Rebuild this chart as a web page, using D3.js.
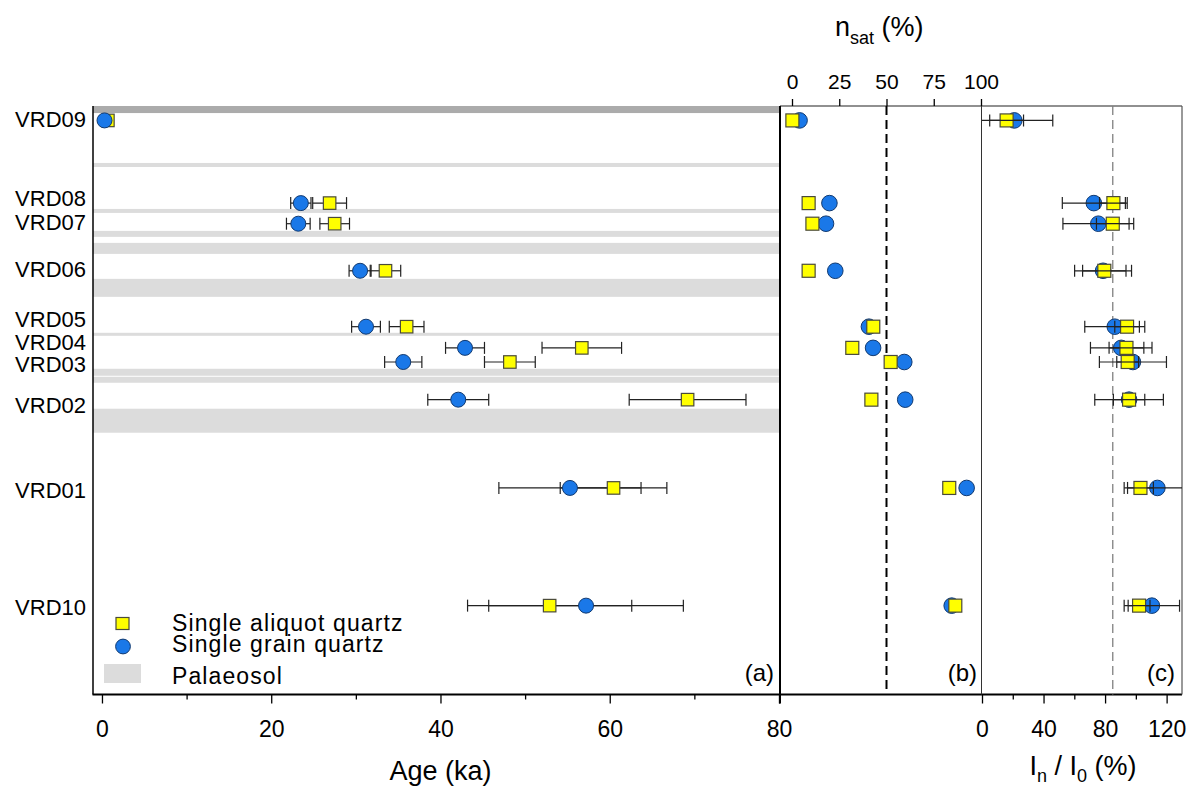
<!DOCTYPE html>
<html>
<head>
<meta charset="utf-8">
<script src="https://cdn.jsdelivr.net/npm/d3@7"></script>
<style>
	body { margin: 0; background: #fff; }
	text { font-family: 'Liberation Sans', Arial, sans-serif; fill: #000; }
</style>
</head>
<body>
<svg id="chart" width="1194" height="787"></svg>
<script>
// samples, top to bottom (relative position in the section, 0-100)
let samples = ['VRD09', 'VRD08', 'VRD07', 'VRD06', 'VRD05', 'VRD04', 'VRD03', 'VRD02', 'VRD01', 'VRD10']
let depth = [2.45, 16.5, 20.0, 28.0, 37.5, 41.1, 43.5, 49.9, 64.9, 84.9]

// (a) ages, ka
let ageSA = [0.7, 26.9, 27.5, 33.5, 36.0, 56.7, 48.2, 69.2, 60.45, 52.9]
let ageSAerr = [0.3, 2.0, 1.75, 1.8, 2.05, 4.7, 3.0, 6.9, 6.3, 9.7]
let ageSG = [0.3, 23.5, 23.2, 30.5, 31.2, 42.9, 35.6, 42.1, 55.3, 57.2]
let ageSGerr = [0.2, 1.2, 1.4, 1.3, 1.7, 2.3, 2.2, 3.6, 8.4, 11.5]

// (b) n_sat, %
let nsatSA = [0.2, 8.8, 10.8, 8.8, 43.0, 31.9, 52.2, 42.0, 83.2, 86.4]
let nsatSG = [4.0, 19.8, 18.0, 22.9, 40.7, 42.9, 59.4, 59.9, 92.4, 84.5]

// (c) In / I0, %
let ratioSA = [16, 85.4, 85.0, 79.5, 94.3, 93.9, 94.7, 95.6, 103, 102.1]
let ratioSAerr = [11, 9, 10.6, 14.1, 8, 11.3, 7.1, 10.2, 8.4, 7.1]
let ratioSG = [21, 72.7, 75.6, 78.7, 86.3, 90.5, 98.1, 95.6, 114, 110.4]
let ratioSGerr = [25, 20.5, 23, 18.5, 19.5, 20, 21.8, 22.3, 21.6, 18]

// palaeosol layers [top, bottom]
let topSoil = [[0, 1.2]]
let palaeosol = [[9.68, 10.36], [17.49, 18.17], [21.22, 22.24], [23.26, 25.13], [29.37, 32.43],
	[38.54, 39.05], [44.65, 45.84], [46.01, 47.03], [51.44, 55.52]]

// ticks
let ageTicks = [0, 20, 40, 60, 80]
let ageMinor = [10, 30, 50, 70]
let nsatTicks = [0, 25, 50, 75, 100]
let ratioTicks = [0, 40, 80, 120]
let ratioMinor = [20, 60, 100]
let satLimit = 50
let ratioLimit = 85

let blue = '#1a78e8'
let yellow = '#ffff00'
let soilGrey = '#dcdcdc'

let yTop = 106, yBottom = 694.5

let y = d3.scaleLinear().domain([0, 100]).range([yTop, yBottom])
let xAge = d3.scaleLinear().domain([-1.06, 80.12]).range([93, 780])
let xSat = d3.scaleLinear().domain([-6.35, 100]).range([780, 981])
let xRatio = d3.scaleLinear().domain([0, 130]).range([982, 1182])

let svg = d3.select('#chart')

let defs = svg.append('defs')
defs.append('clipPath').attr('id', 'clip-c')
	.append('rect')
	.attr('x', xRatio.range()[0]).attr('y', yTop)
	.attr('width', xRatio.range()[1] - xRatio.range()[0]).attr('height', yBottom - yTop)

// palaeosol bands
svg.append('g')
	.selectAll('rect')
	.data(palaeosol)
	.join('rect')
	.attr('x', xAge.range()[0])
	.attr('width', xAge.range()[1] - xAge.range()[0])
	.attr('y', d => y(d[0]))
	.attr('height', d => y(d[1]) - y(d[0]))
	.attr('fill', soilGrey)

svg.append('g')
	.selectAll('rect')
	.data(topSoil)
	.join('rect')
	.attr('x', xAge.range()[0])
	.attr('width', xAge.range()[1] - xAge.range()[0])
	.attr('y', d => y(d[0]))
	.attr('height', d => y(d[1]) - y(d[0]))
	.attr('fill', '#ababab')

// frame
let frame = svg.append('g').attr('fill', 'none')
frame.append('line').attr('x1', 93).attr('x2', 93).attr('y1', yTop).attr('y2', yBottom)
	.attr('stroke', '#000').attr('stroke-width', 1.5)
frame.append('line').attr('x1', 92.5).attr('x2', 1182).attr('y1', yBottom).attr('y2', yBottom)
	.attr('stroke', '#000').attr('stroke-width', 1.8)
frame.append('line').attr('x1', 780).attr('x2', 1182).attr('y1', yTop).attr('y2', yTop)
	.attr('stroke', '#222').attr('stroke-width', 1.2)
frame.append('line').attr('x1', 780).attr('x2', 780).attr('y1', yTop).attr('y2', yBottom + 9)
	.attr('stroke', '#000').attr('stroke-width', 2)
frame.append('line').attr('x1', 981.5).attr('x2', 981.5).attr('y1', yTop).attr('y2', yBottom)
	.attr('stroke', '#333').attr('stroke-width', 1)
frame.append('line').attr('x1', 1182).attr('x2', 1182).attr('y1', yTop).attr('y2', yBottom)
	.attr('stroke', '#555').attr('stroke-width', 1.2)

// reference lines
svg.append('line')
	.attr('x1', xSat(satLimit)).attr('x2', xSat(satLimit))
	.attr('y1', yTop).attr('y2', yBottom)
	.attr('stroke', '#000').attr('stroke-width', 2)
	.attr('stroke-dasharray', '9,5')
svg.append('line')
	.attr('x1', xRatio(ratioLimit)).attr('x2', xRatio(ratioLimit))
	.attr('y1', yTop).attr('y2', yBottom)
	.attr('stroke', '#808080').attr('stroke-width', 1.3)
	.attr('stroke-dasharray', '9,5')

// axes
function styleAxis(g, size) {
	g.select('.domain').remove()
	g.selectAll('.tick line').attr('stroke', '#000').attr('stroke-width', 1.3)
	g.selectAll('.tick text').style('font-size', size + 'px')
}

svg.append('g')
	.attr('transform', `translate(0,${yBottom})`)
	.call(d3.axisBottom(xAge).tickValues(ageMinor).tickSize(5).tickFormat(''))
	.call(g => styleAxis(g, 23))
svg.append('g')
	.attr('transform', `translate(0,${yBottom})`)
	.call(d3.axisBottom(xAge).tickValues(ageTicks).tickSize(9).tickPadding(17))
	.call(g => styleAxis(g, 23))

svg.append('g')
	.attr('transform', `translate(0,${yBottom})`)
	.call(d3.axisBottom(xRatio).tickValues(ratioMinor).tickSize(5).tickFormat(''))
	.call(g => styleAxis(g, 23))
svg.append('g')
	.attr('transform', `translate(0,${yBottom})`)
	.call(d3.axisBottom(xRatio).tickValues(ratioTicks).tickSize(9).tickPadding(17))
	.call(g => styleAxis(g, 23))

svg.append('g')
	.attr('transform', `translate(0,${yTop})`)
	.call(d3.axisTop(xSat).tickValues(nsatTicks).tickSize(7).tickPadding(10))
	.call(g => styleAxis(g, 21))

// axis titles
svg.append('text')
	.attr('x', xAge(40)).attr('y', 780)
	.attr('text-anchor', 'middle')
	.style('font-size', '27px')
	.text('Age (ka)')

let t1 = svg.append('text')
	.attr('x', 835).attr('y', 36)
	.style('font-size', '27px')
t1.append('tspan').text('n')
t1.append('tspan').attr('dy', 8).style('font-size', '18px').text('sat')
t1.append('tspan').attr('dy', -8).text(' (%)')

let t2 = svg.append('text')
	.attr('x', 1083).attr('y', 775)
	.attr('text-anchor', 'middle')
	.style('font-size', '27px')
t2.append('tspan').text('I')
t2.append('tspan').attr('dy', 7).style('font-size', '18px').text('n')
t2.append('tspan').attr('dy', -7).text(' / I')
t2.append('tspan').attr('dy', 7).style('font-size', '18px').text('0')
t2.append('tspan').attr('dy', -7).text(' (%)')

// panel letters
svg.append('g')
	.style('font-size', '24px')
	.attr('text-anchor', 'end')
	.selectAll('text')
	.data([['(a)', 774], ['(b)', 977], ['(c)', 1175]])
	.join('text')
	.attr('x', d => d[1])
	.attr('y', 681)
	.text(d => d[0])

// sample labels
let labelShift = { VRD09: -1, VRD08: -5, VRD07: -1, VRD06: -1, VRD05: -7, VRD04: -6, VRD03: 2, VRD02: 5.5, VRD01: 2, VRD10: 2 }
svg.append('g')
	.style('font-size', '22px')
	.attr('text-anchor', 'end')
	.selectAll('text')
	.data(samples)
	.join('text')
	.attr('x', 86)
	.attr('y', (d, i) => y(depth[i]) + (labelShift[d] || 0))
	.attr('dy', '0.35em')
	.text(d => d)

// error bars + markers
function errorBars(g, x, vals, errs) {
	let bars = g.append('g')
		.attr('stroke', '#222')
		.attr('stroke-width', 1.2)
		.selectAll('g')
		.data(vals)
		.join('g')
	bars.append('line')
		.attr('x1', (d, i) => x(d - errs[i]))
		.attr('x2', (d, i) => x(d + errs[i]))
		.attr('y1', (d, i) => y(depth[i]))
		.attr('y2', (d, i) => y(depth[i]))
	bars.selectAll('line.cap')
		.data((d, i) => [[d - errs[i], i], [d + errs[i], i]])
		.join('line')
		.attr('class', 'cap')
		.attr('x1', d => x(d[0]))
		.attr('x2', d => x(d[0]))
		.attr('y1', d => y(depth[d[1]]) - 6)
		.attr('y2', d => y(depth[d[1]]) + 6)
}

function circles(g, x, vals, r) {
	g.append('g')
		.selectAll('circle')
		.data(vals)
		.join('circle')
		.attr('cx', d => x(d))
		.attr('cy', (d, i) => y(depth[i]))
		.attr('r', r)
		.attr('fill', blue)
		.attr('stroke', '#123a70')
		.attr('stroke-width', 1)
}

function squares(g, x, vals, s) {
	g.append('g')
		.selectAll('rect')
		.data(vals)
		.join('rect')
		.attr('x', d => x(d) - s / 2)
		.attr('y', (d, i) => y(depth[i]) - s / 2)
		.attr('width', s)
		.attr('height', s)
		.attr('fill', yellow)
		.attr('stroke', '#4a4a3a')
		.attr('stroke-width', 1.2)
}

// (a)
let pa = svg.append('g')
errorBars(pa, xAge, ageSA, ageSAerr)
errorBars(pa, xAge, ageSG, ageSGerr)
squares(pa, xAge, ageSA, 12.5)
circles(pa, xAge, ageSG, 7.5)

// (b)
let pb = svg.append('g')
circles(pb, xSat, nsatSG, 7.8)
squares(pb, xSat, nsatSA, 13)

// (c)
let pc = svg.append('g').attr('clip-path', 'url(#clip-c)')
circles(pc, xRatio, ratioSG, 7.8)
errorBars(pc, xRatio, ratioSG, ratioSGerr)
squares(pc, xRatio, ratioSA, 13)
errorBars(pc, xRatio, ratioSA, ratioSAerr)

// legend
let legend = svg.append('g').style('font-size', '23px').style('letter-spacing', '1.1px')
legend.append('rect')
	.attr('x', 116).attr('y', 617.5).attr('width', 13).attr('height', 12)
	.attr('fill', yellow).attr('stroke', '#4a4a3a').attr('stroke-width', 1.2)
legend.append('circle')
	.attr('cx', 123).attr('cy', 646.5).attr('r', 7.4)
	.attr('fill', blue).attr('stroke', '#123a70')
legend.append('rect')
	.attr('x', 104).attr('y', 664).attr('width', 37).attr('height', 19)
	.attr('fill', soilGrey)
legend.selectAll('text')
	.data([['Single aliquot quartz', 623], ['Single grain quartz', 644], ['Palaeosol', 675.5]])
	.join('text')
	.attr('x', 172)
	.attr('y', d => d[1])
	.attr('dy', '0.35em')
	.text(d => d[0])
</script>
</body>
</html>
